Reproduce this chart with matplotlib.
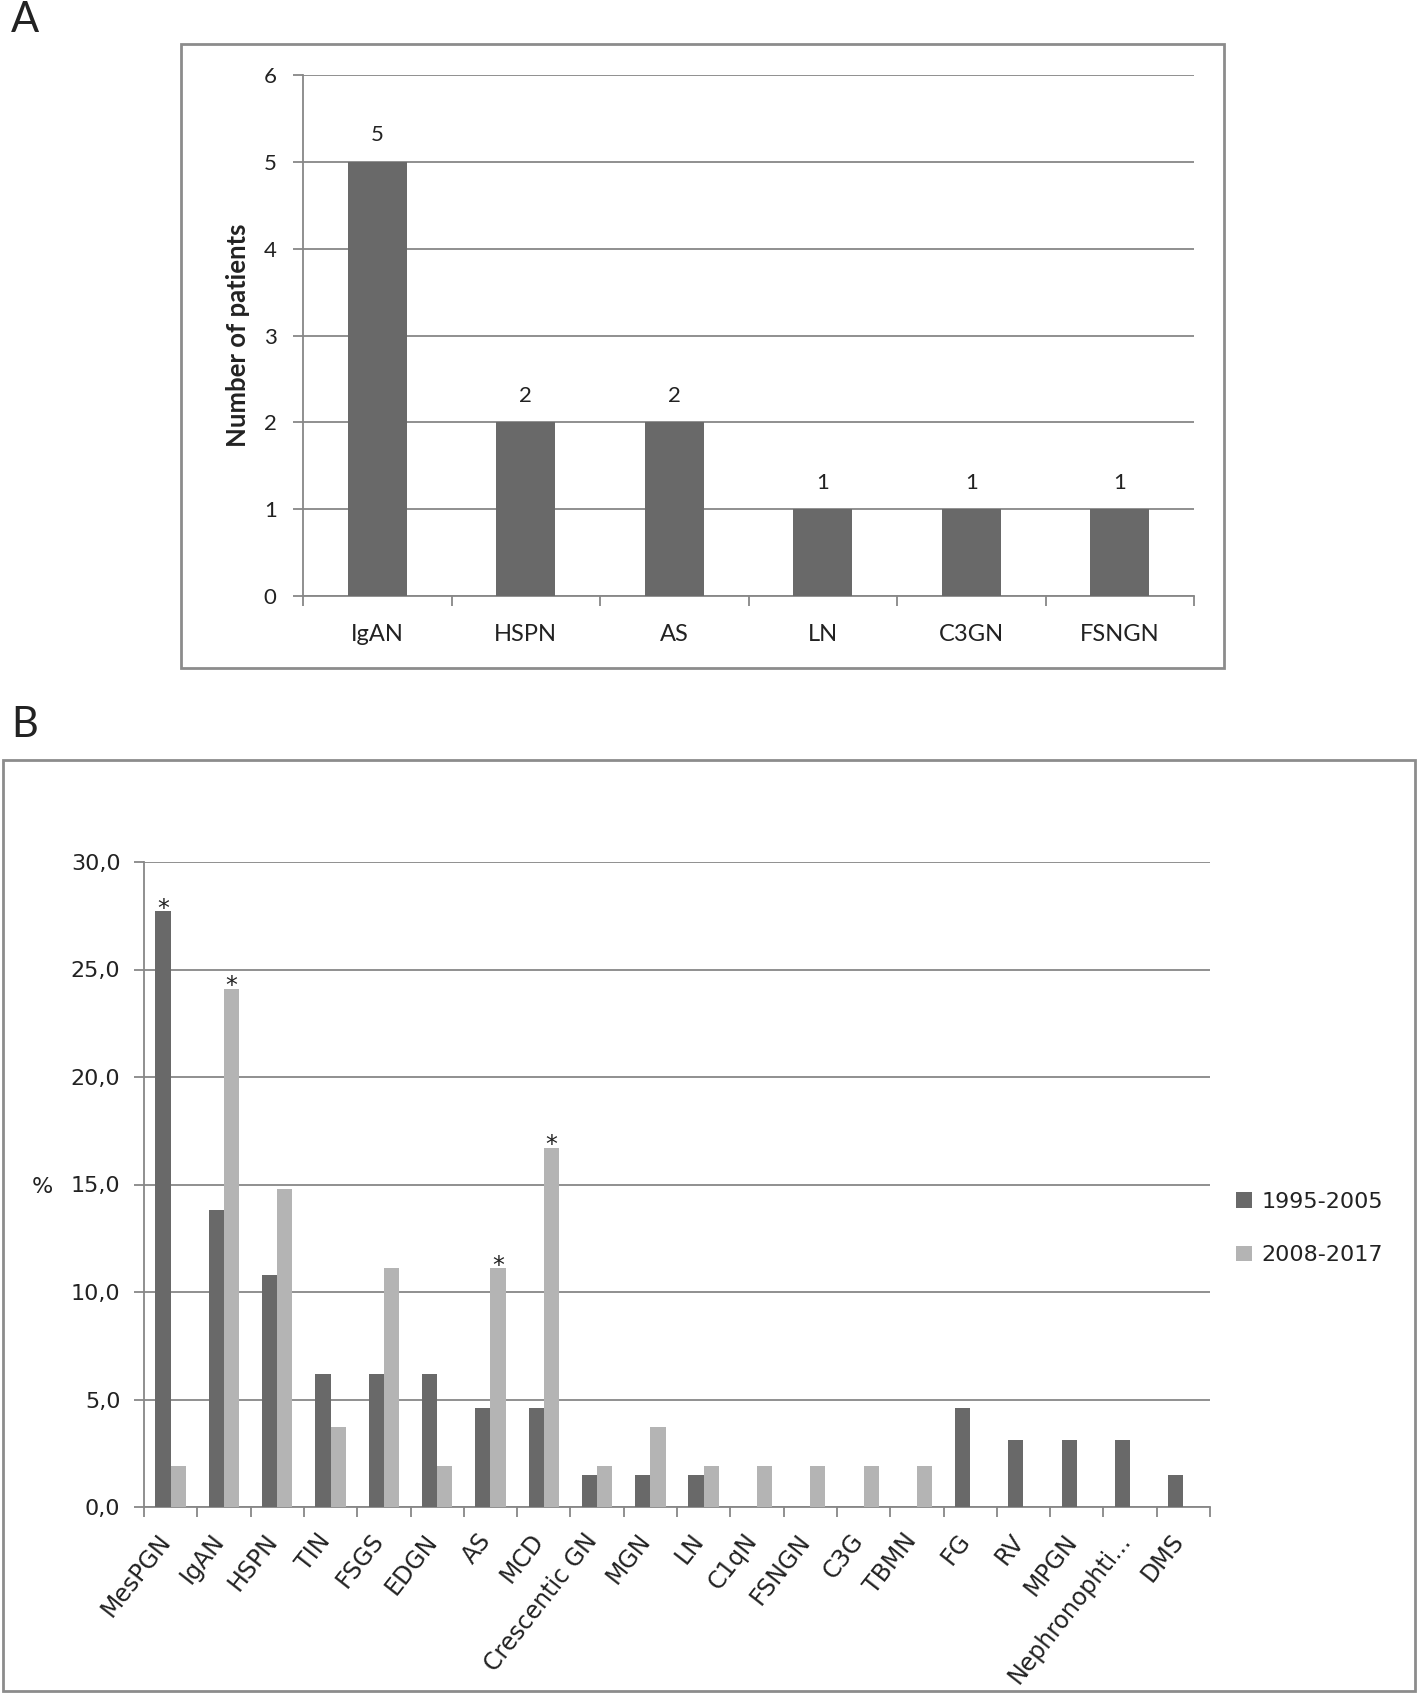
import matplotlib
matplotlib.use('Agg')
from matplotlib import pyplot as plt
from matplotlib.patches import Rectangle
from matplotlib.ticker import FuncFormatter, FixedLocator
from matplotlib.transforms import ScaledTranslation
import numpy as np

# panel A: patients per diagnosis
a_labels = ['IgAN', 'HSPN', 'AS', 'LN', 'C3GN', 'FSNGN']
a_counts = [5, 2, 2, 1, 1, 1]

# panel B: share of biopsies (%) in two periods
b_labels = ['MesPGN', 'IgAN', 'HSPN', 'TIN', 'FSGS', 'EDGN', 'AS', 'MCD', 'Crescentic GN', 'MGN',
            'LN', 'C1qN', 'FSNGN', 'C3G', 'TBMN', 'FG', 'RV', 'MPGN', 'Nephronophti...', 'DMS']
b_1995 = [27.7, 13.8, 10.8, 6.2, 6.2, 6.2, 4.6, 4.6, 1.5, 1.5, 1.5, 0, 0, 0, 0, 4.6, 3.1, 3.1, 3.1, 1.5]
b_2008 = [1.9, 24.1, 14.8, 3.7, 11.1, 1.9, 11.1, 16.7, 1.9, 3.7, 1.9, 1.9, 1.9, 1.9, 1.9, 0, 0, 0, 0, 0]
series_names = ['1995-2005', '2008-2017']
star_1995 = ['MesPGN']
star_2008 = ['IgAN', 'AS', 'MCD']

DARK = '#696969'
LIGHT = '#b4b4b4'
GRID = '#878787'
TEXT = '#222222'
W, H = 1418, 1695


def excel_axes(ax, n):
    """Оси в стиле Excel: серые линии, засечки между категориями."""
    for s in ['top', 'right']:
        ax.spines[s].set_visible(False)
    for s in ['left', 'bottom']:
        ax.spines[s].set_color(GRID)
        ax.spines[s].set_linewidth(1.3)
    ax.yaxis.grid(True, color=GRID, linewidth=1.3)
    ax.set_axisbelow(True)
    ax.set_xlim(-0.5, n - 0.5)
    ax.set_xticks(np.arange(n))
    ax.xaxis.set_minor_locator(FixedLocator(np.arange(n + 1) - 0.5))
    ax.tick_params(axis='x', which='major', length=0)
    ax.tick_params(axis='x', which='minor', length=7, width=1.3, color=GRID)
    ax.tick_params(axis='y', length=7, width=1.3, color=GRID, labelcolor=TEXT)


fig = plt.figure(figsize=(W / 100, H / 100), dpi=100)

# frames around both panels
fig.patches.append(Rectangle((181 / W, 1 - 668 / H), 1043 / W, 624 / H, transform=fig.transFigure,
                             fill=False, edgecolor='#8c8c8c', linewidth=2))
fig.patches.append(Rectangle((3 / W, 1 - 1691 / H), 1412 / W, 931 / H, transform=fig.transFigure,
                             fill=False, edgecolor='#8c8c8c', linewidth=2))

# ---- A ----
axA = fig.add_axes([303 / W, 1 - 596 / H, 891 / W, 521 / H])
excel_axes(axA, len(a_labels))
xa = np.arange(len(a_labels))
bars = axA.bar(xa, a_counts, width=0.4, color=DARK, zorder=3)
axA.set_ylim(0, 6)
axA.set_yticks(range(7))
axA.set_xticklabels(a_labels, family='Lato', fontsize=17, color=TEXT)
axA.tick_params(axis='x', which='major', pad=20)
axA.tick_params(axis='y', pad=12)
for t in axA.get_yticklabels():
    t.set_family('Lato')
    t.set_fontsize(16)
for b, v in zip(bars, a_counts):
    axA.annotate(str(v), (b.get_x() + b.get_width() / 2, v), xytext=(0, 19), textcoords='offset points',
                 ha='center', va='center', family='Lato', fontsize=16, color=TEXT)
fig.text(238 / W, 1 - 335 / H, 'Number of patients', rotation=90, ha='center', va='center',
         family='Lato', fontweight='bold', fontsize=18.5, color=TEXT)
fig.text(25 / W, 1 - 20 / H, 'A', ha='center', va='center', family='Lato', fontsize=30, color=TEXT)

# ---- B ----
axB = fig.add_axes([144 / W, 1 - 1507 / H, 1066 / W, 645 / H])
excel_axes(axB, len(b_labels))
xb = np.arange(len(b_labels))
bw = 0.286
r1 = axB.bar(xb - bw / 2, b_1995, width=bw, color=DARK, zorder=3, label=series_names[0])
r2 = axB.bar(xb + bw / 2, b_2008, width=bw, color=LIGHT, zorder=3, label=series_names[1])
axB.set_ylim(0, 30)
axB.set_yticks(np.arange(0, 31, 5))
axB.yaxis.set_major_formatter(FuncFormatter(lambda v, p: f'{v:.1f}'.replace('.', ',')))
axB.tick_params(axis='y', pad=10, labelsize=16)
axB.set_xticklabels(b_labels, rotation=52, ha='right', rotation_mode='anchor', fontsize=17, color=TEXT)
axB.tick_params(axis='x', which='major', pad=16)
# slight shift to the left, as in the original
shift = ScaledTranslation(-10 / 72, 0, fig.dpi_scale_trans)
for t in axB.get_xticklabels():
    t.set_transform(t.get_transform() + shift)

# significance marks
for rects, vals, stars in [(r1, b_1995, star_1995), (r2, b_2008, star_2008)]:
    for rect, v, name in zip(rects, vals, b_labels):
        if name in stars:
            axB.annotate('*', (rect.get_x() + rect.get_width() / 2, v), xytext=(0, -3),
                         textcoords='offset points', ha='center', va='baseline', fontsize=17, color=TEXT)

axB.legend(loc='upper left', bbox_to_anchor=(1236 / W, 1 - 1192 / H), bbox_transform=fig.transFigure,
           frameon=False, fontsize=16, handlelength=0.7, handleheight=0.7, handletextpad=0.45,
           labelspacing=1.5, borderpad=0, borderaxespad=0)
for t in axB.get_legend().get_texts():
    t.set_color(TEXT)
fig.text(42 / W, 1 - 1187 / H, '%', ha='center', va='center', fontsize=16, color=TEXT)
fig.text(25 / W, 1 - 725 / H, 'B', ha='center', va='center', family='Lato', fontsize=30, color=TEXT)

fig.savefig('out.png', dpi=100)
